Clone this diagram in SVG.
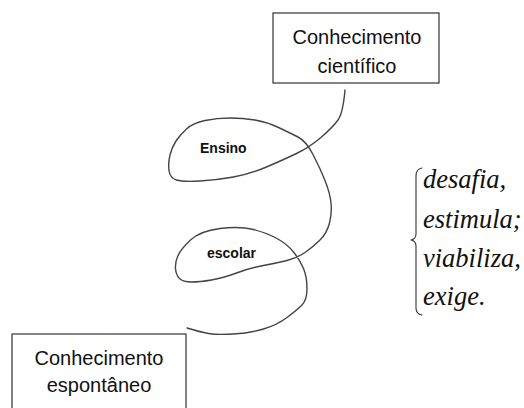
<svg xmlns="http://www.w3.org/2000/svg" width="524" height="408" viewBox="0 0 524 408">
<style>
.box{fill:#fff;stroke:#333;stroke-width:1.2}
.bt{font-family:"Liberation Sans",Arial,sans-serif;font-size:20px;fill:#111;text-anchor:middle}
.lbl{font-family:"Liberation Sans",Arial,sans-serif;font-size:14px;font-weight:bold;fill:#111}
.it{font-family:"Liberation Serif","Times New Roman",serif;font-size:26.5px;font-style:italic;fill:#111}
.ln{fill:none;stroke:#444;stroke-width:1.4;stroke-linecap:round;stroke-linejoin:round}
</style>
<rect width="524" height="408" fill="#fff"/>
<g id="connectors">
<path class="ln" d="M345,90 Q343,113 338,120 Q333,127 321.5,137 Q310,147 296.5,153.5 Q283,160 266.5,167 Q250,174 233.5,177 Q217,180 200,181 Q183,182 176.5,180 Q170,178 169,170.5 Q168,163 170,155 Q172,147 176,141 Q180,135 186.5,129 Q193,123 205,120.5 Q217,118 230,118 Q243,118 255,120 Q267,122 278.5,127.5 Q290,133 298,137 Q306,141 313,154.5 Q320,168 325,180.5 Q330,193 331,203 Q332,213 329.5,223 Q327,233 320,240 Q313,247 305,252.5 Q297,258 287,260.5 Q277,263 263.5,265.5 Q250,268 236.5,273 Q223,278 211.5,280 Q200,282 191.5,282 Q183,282 179.5,278.5 Q176,275 175.5,268.5 Q175,262 178,255.5 Q181,249 190.5,240 Q200,231 220,228.5 Q240,226 253.5,229.5 Q267,233 277,238.5 Q287,244 293.5,252 Q300,260 303.5,268.5 Q307,277 307,288.5 Q307,300 302,305 Q297,310 287,317.5 Q277,325 263.5,329 Q250,333 233.5,334 Q217,335 208.5,333.5 Q200,332 187,328"/>
</g>
<g id="cientifico">
<rect class="box" x="273" y="13" width="166" height="70"/>
<text class="bt" x="357" y="44">Conhecimento</text>
<text class="bt" x="357" y="73">científico</text>
</g>
<g id="espontaneo">
<rect class="box" x="12" y="334" width="174" height="90"/>
<text class="bt" x="99" y="365">Conhecimento</text>
<text class="bt" x="99" y="392">espontâneo</text>
</g>
<g id="ensino">
<text class="lbl" x="200" y="153">Ensino</text>
</g>
<g id="escolar">
<text class="lbl" x="207" y="258">escolar</text>
</g>
<g id="verbos">
<path class="ln" style="stroke:#333;stroke-width:1.1" d="M422,168 Q416,169 416,176 L416,234 Q416,239 411,240 Q416,241 416,246 L416,308 Q416,314 422,315"/>
<text class="it" x="423" y="188">desafia,</text>
<text class="it" x="423" y="228">estimula;</text>
<text class="it" x="423" y="267">viabiliza,</text>
<text class="it" x="423" y="305">exige.</text>
</g>
</svg>
